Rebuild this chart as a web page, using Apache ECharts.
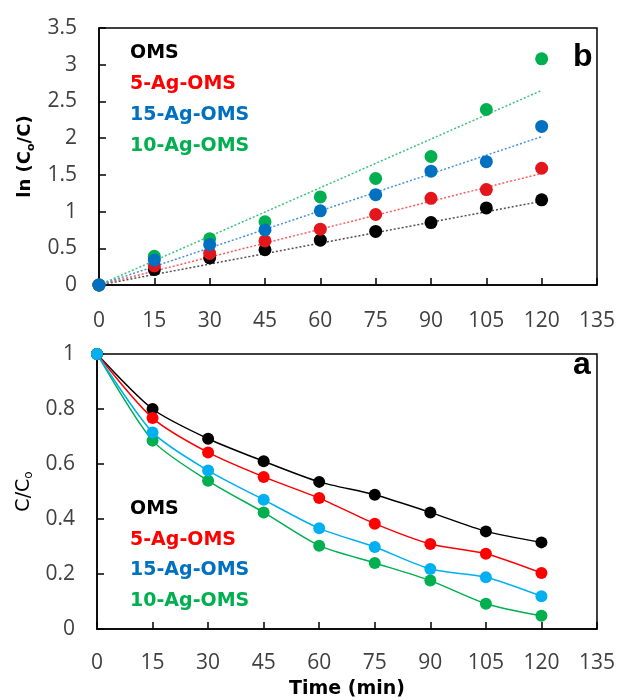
<!DOCTYPE html>
<html>
<head>
<meta charset="utf-8">
<script src="https://cdn.jsdelivr.net/npm/echarts@6/dist/echarts.min.js"></script>
<style>html,body{margin:0;padding:0;background:#fff;}#c{width:618px;height:700px;}</style>
</head>
<body>
<div id="c"></div>
<script>
// ---- data ----
var time = [0, 15, 30, 45, 60, 75, 90, 105, 120];
var names = ['OMS', '5-Ag-OMS', '15-Ag-OMS', '10-Ag-OMS'];
// panel b: ln(C0/C)
var lnOMS = [0, 0.21, 0.37, 0.48, 0.61, 0.73, 0.85, 1.05, 1.16];
var ln5Ag = [0, 0.26, 0.43, 0.60, 0.76, 0.96, 1.18, 1.30, 1.59];
var ln15Ag = [0, 0.34, 0.55, 0.75, 1.01, 1.23, 1.55, 1.68, 2.16];
var ln10Ag = [0, 0.39, 0.63, 0.86, 1.20, 1.45, 1.75, 2.39, 3.08];
// linear trend lines: start and end values
var fitX = [0, 120];
var fitOMS = [0, 1.14];
var fit5Ag = [0, 1.52];
var fit15Ag = [0, 2.02];
var fit10Ag = [0, 2.65];
// panel a: C/C0
var cOMS = [1, 0.800, 0.692, 0.610, 0.535, 0.488, 0.424, 0.355, 0.315];
var c5Ag = [1, 0.767, 0.642, 0.553, 0.476, 0.383, 0.309, 0.274, 0.204];
var c15Ag = [1, 0.715, 0.576, 0.470, 0.366, 0.298, 0.218, 0.188, 0.119];
var c10Ag = [1, 0.685, 0.539, 0.424, 0.303, 0.240, 0.176, 0.092, 0.048];

function pairs(xs, ys) { return xs.map(function (x, i) { return [x, ys[i]]; }); }

var FONT = 'Open Sans';
var BFONT = 'DejaVu Sans';
var legendColors = ['#000000', '#FF0000', '#0070C0', '#00B050'];

function xAxisCfg(idx, margin, extra) {
  var a = {
    type: 'value', gridIndex: idx, min: 0, max: 135, interval: 15,
    axisLine: { show: true, lineStyle: { color: '#000', width: 1.5 } },
    axisTick: { show: true, inside: true, length: 7, lineStyle: { color: '#000', width: 1.5 } },
    axisLabel: { margin: margin, fontFamily: FONT, fontSize: 21, color: '#404040' },
    splitLine: { show: false }
  };
  for (var k in extra) a[k] = extra[k];
  return a;
}
function yAxisCfg(idx, max, interval, extra) {
  var a = {
    type: 'value', gridIndex: idx, min: 0, max: max, interval: interval,
    axisLine: { show: true, lineStyle: { color: '#000', width: 1.5 } },
    axisTick: { show: true, inside: true, length: 7, lineStyle: { color: '#000', width: 1.5 } },
    axisLabel: { margin: 22, fontFamily: FONT, fontSize: 21, color: '#404040' },
    splitLine: { show: false }
  };
  for (var k in extra) a[k] = extra[k];
  return a;
}
function legendCfg(top, gap) {
  return {
    orient: 'vertical', left: 120, top: top, itemWidth: 0, itemHeight: 0, itemGap: gap,
    selectedMode: false,
    textStyle: { fontFamily: BFONT, fontWeight: 'bold', fontSize: 19, lineHeight: 20 },
    data: names.map(function (n, i) { return { name: n, icon: 'rect', textStyle: { color: legendColors[i] } }; })
  };
}

var topColors = { 'OMS': '#000000', '5-Ag-OMS': '#E3161C', '15-Ag-OMS': '#0070C0', '10-Ag-OMS': '#00B050' };
var fitColors = { 'OMS': '#505050', '5-Ag-OMS': '#FF5A5A', '15-Ag-OMS': '#4A90D9', '10-Ag-OMS': '#3CC47A' };
var botColors = { 'OMS': '#000000', '5-Ag-OMS': '#FF0000', '15-Ag-OMS': '#00B0F0', '10-Ag-OMS': '#00B050' };

var lnData = { 'OMS': lnOMS, '5-Ag-OMS': ln5Ag, '15-Ag-OMS': ln15Ag, '10-Ag-OMS': ln10Ag };
var fitData = { 'OMS': fitOMS, '5-Ag-OMS': fit5Ag, '15-Ag-OMS': fit15Ag, '10-Ag-OMS': fit10Ag };
var cData = { 'OMS': cOMS, '5-Ag-OMS': c5Ag, '15-Ag-OMS': c15Ag, '10-Ag-OMS': c10Ag };

var drawOrder = ['OMS', '5-Ag-OMS', '10-Ag-OMS', '15-Ag-OMS'];
var series = [];
drawOrder.forEach(function (n) {
  series.push({
    name: n + ' fit', type: 'line', xAxisIndex: 0, yAxisIndex: 0, data: pairs(fitX, fitData[n]),
    symbol: 'none', silent: true, z: 1,
    lineStyle: { color: fitColors[n], width: 1.5, type: [2, 2] }
  });
});
drawOrder.forEach(function (n) {
  series.push({
    name: n, type: 'scatter', xAxisIndex: 0, yAxisIndex: 0, data: pairs(time, lnData[n]),
    symbol: 'circle', symbolSize: 13, z: 3,
    itemStyle: { color: topColors[n], opacity: 1 }
  });
});
drawOrder.forEach(function (n) {
  series.push({
    name: n, type: 'line', xAxisIndex: 1, yAxisIndex: 1, data: pairs(time, cData[n]),
    symbol: 'circle', symbolSize: 12, showSymbol: true, smooth: 0.25, z: 3,
    lineStyle: { color: botColors[n], width: 1.5 },
    itemStyle: { color: botColors[n], opacity: 1 }
  });
});

var chart = echarts.init(document.getElementById('c'));
chart.setOption({
  backgroundColor: '#fff',
  animation: false,
  grid: [
    { left: 99, top: 28, width: 501, height: 257, show: true, borderColor: '#000', borderWidth: 1.5, backgroundColor: 'transparent' },
    { left: 97, top: 354, width: 503, height: 275, show: true, borderColor: '#000', borderWidth: 1.5, backgroundColor: 'transparent' }
  ],
  title: [
    { text: 'b', left: 568, top: 36, textStyle: { fontFamily: 'Liberation Sans', fontWeight: 'bold', fontSize: 32, color: '#000' } },
    { text: 'a', left: 568, top: 344, textStyle: { fontFamily: 'Liberation Sans', fontWeight: 'bold', fontSize: 32, color: '#000' } }
  ],
  legend: [legendCfg(38, 11), legendCfg(494, 10.7)],
  xAxis: [
    xAxisCfg(0, 26, {}),
    xAxisCfg(1, 24, {
      name: 'Time (min)', nameLocation: 'middle', nameGap: 51,
      nameTextStyle: { fontFamily: BFONT, fontWeight: 'bold', fontSize: 19, color: '#000' }
    })
  ],
  yAxis: [
    yAxisCfg(0, 3.5, 0.5, {
      name: '{a|ln (C}{s|o}{a|/C)}', nameLocation: 'middle', nameGap: 62,
      nameTextStyle: {
        rich: {
          a: { fontFamily: BFONT, fontWeight: 'bold', fontSize: 18, color: '#000', lineHeight: 22 },
          s: { fontFamily: BFONT, fontWeight: 'bold', fontSize: 11, color: '#000', lineHeight: 12, verticalAlign: 'bottom' }
        }
      }
    }),
    yAxisCfg(1, 1, 0.2, {
      name: '{a|C/C}{s|o}', nameLocation: 'middle', nameGap: 60,
      nameTextStyle: {
        rich: {
          a: { fontFamily: BFONT, fontSize: 19, color: '#000', lineHeight: 22 },
          s: { fontFamily: BFONT, fontSize: 12, color: '#000', lineHeight: 12, verticalAlign: 'bottom' }
        }
      }
    })
  ],
  series: series
});
</script>
</body>
</html>
